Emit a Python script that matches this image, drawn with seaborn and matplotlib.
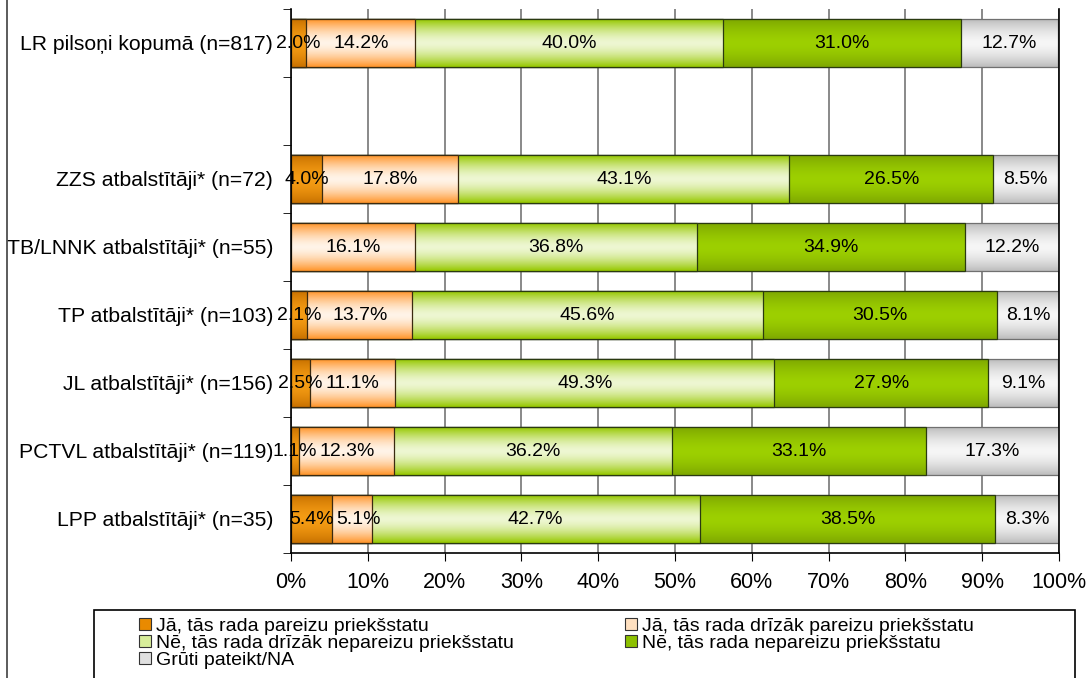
import numpy as np
import pandas as pd
import matplotlib.pyplot as plt
import seaborn as sns
from matplotlib.colors import to_rgb
from matplotlib.patches import Patch, Rectangle
from matplotlib.lines import Line2D

# Dati
groups = ['LR pilsoņi kopumā (n=817)', ' ', 'ZZS atbalstītāji* (n=72)',
          'TB/LNNK atbalstītāji* (n=55)', 'TP atbalstītāji* (n=103)',
          'JL atbalstītāji* (n=156)', 'PCTVL atbalstītāji* (n=119)',
          'LPP atbalstītāji* (n=35)']
rows = [g for g in groups if g.strip()]

series = ['Jā, tās rada pareizu priekšstatu',
          'Jā, tās rada drīzāk pareizu priekšstatu',
          'Nē, tās rada drīzāk nepareizu priekšstatu',
          'Nē, tās rada nepareizu priekšstatu',
          'Grūti pateikt/NA']

ja = [2.0, 4.0, 0.0, 2.1, 2.5, 1.1, 5.4]
ja_drizak = [14.2, 17.8, 16.1, 13.7, 11.1, 12.3, 5.1]
ne_drizak = [40.0, 43.1, 36.8, 45.6, 49.3, 36.2, 42.7]
ne = [31.0, 26.5, 34.9, 30.5, 27.9, 33.1, 38.5]
gruti = [12.7, 8.5, 12.2, 8.1, 9.1, 17.3, 8.3]

# krāsas: (mala, vidus) gradientam
grad = [('#c97200', '#f59c14'),
        ('#ff952a', '#fff4e8'),
        ('#96c800', '#eef7d2'),
        ('#7ea800', '#9dd000'),
        ('#bdbdbd', '#f6f6f6')]
edge_cols = ['#3a2a10', '#3a2a10', '#2a3a10', '#2a3a10', '#707070']
legend_cols = ['#e98a00', '#ffe0c0', '#d8ee9a', '#8cc000', '#e0e0e0']

df = pd.DataFrame({'grupa': rows, series[0]: ja, series[1]: ja_drizak,
                   series[2]: ne_drizak, series[3]: ne, series[4]: gruti})
cum = df[series].cumsum(axis=1)
for s in series:
    df['cum_' + s] = cum[s]

plt.rcParams['font.family'] = ['Liberation Sans', 'DejaVu Sans']
fig = plt.figure(figsize=(10.87, 6.78), dpi=100)
ax = fig.add_axes([291 / 1087, 1 - 553 / 678, 768 / 1087, 544 / 678])


def gradient_img(c_edge, c_mid, n=64):
    t = np.abs(np.linspace(-1, 1, n)) ** 1.6
    e = np.array(to_rgb(c_edge))
    m = np.array(to_rgb(c_mid))
    return (m[None, :] * (1 - t[:, None]) + e[None, :] * t[:, None])[:, None, :]


# uzkrātie stabiņi no pēdējā uz pirmo
for i in reversed(range(len(series))):
    s = series[i]
    n0 = len(ax.patches)
    sns.barplot(data=df, y='grupa', x='cum_' + s, order=groups, orient='h',
                color=legend_cols[i], width=0.7, errorbar=None, ax=ax)
    z = 2 + (4 - i) * 0.1
    img = gradient_img(*grad[i])
    for p in ax.patches[n0:]:
        x0, y0 = p.get_x(), p.get_y()
        w, h = p.get_width(), p.get_height()
        if w <= 0:
            continue
        ax.imshow(img, extent=(x0, x0 + w, y0 + h, y0), aspect='auto',
                  interpolation='bilinear', zorder=z)
        p.set_facecolor('none')
        p.set_edgecolor(edge_cols[i])
        p.set_linewidth(0.9)
        p.set_zorder(z + 0.05)

ax.set_xlim(0, 100)
ax.set_ylim(len(groups) - 0.5, -0.5)

# vērtību etiķetes (pabīda pa labi, ja uzklājas ar iepriekšējo)
renderer = fig.canvas.get_renderer()
for r, g in enumerate(rows):
    y = groups.index(g)
    prev = 0
    last_right = None
    for s in series:
        v = df.loc[r, s]
        if v > 0:
            t = ax.text(prev + v / 2, y, f'{v:.1f}%', ha='center', va='center',
                        fontsize=14, color='black', zorder=5)
            bb = t.get_window_extent(renderer)
            if last_right is not None and bb.x0 < last_right + 2:
                shift = last_right + 2 - bb.x0
                xd = ax.transData.inverted().transform((bb.x0 + bb.width / 2 + shift, 0))[0]
                t.set_x(xd)
                bb = t.get_window_extent(renderer)
            last_right = bb.x1
        prev += v

ax.set_xticks(np.arange(0, 101, 10))
ax.set_xticklabels([f'{t}%' for t in range(0, 101, 10)], fontsize=15.5)
ax.set_yticks(range(len(groups)))
ax.set_yticklabels(groups, fontsize=15.2)
ax.set_yticks(np.arange(-0.5, len(groups), 1), minor=True)
ax.tick_params(axis='y', which='major', length=0, pad=13)
ax.tick_params(axis='y', which='minor', length=6, direction='out', color='black')
ax.tick_params(axis='x', length=6, direction='out', pad=8, color='black')
ax.set_xlabel('')
ax.set_ylabel('')
ax.grid(axis='x', color='#808080', linewidth=1.3, zorder=0.5)
ax.set_axisbelow(True)
for side in ['left', 'bottom', 'right']:
    ax.spines[side].set_color('black')
    ax.spines[side].set_linewidth(1.2)
ax.spines['top'].set_visible(False)

# leģenda divās kolonnās
handles = [Patch(facecolor=legend_cols[i], edgecolor='#333333', linewidth=0.8)
           for i in range(len(series))]
leg_kw = dict(frameon=False, fontsize=14, handlelength=0.6, handleheight=0.6,
              handletextpad=0.25, labelspacing=0.0, borderpad=0, borderaxespad=0,
              loc='upper left')
leg1 = fig.legend([handles[0], handles[2], handles[4]],
                  [series[0], series[2], series[4]],
                  bbox_to_anchor=(139 / 1087, 1 - 618 / 678), **leg_kw)
leg2 = fig.legend([handles[1], handles[3]], [series[1], series[3]],
                  bbox_to_anchor=(625 / 1087, 1 - 618 / 678), **leg_kw)

fig.add_artist(Rectangle((94 / 1087, -0.05), (1075 - 94) / 1087, 0.05 + (678 - 610) / 678,
                         transform=fig.transFigure, fill=False,
                         edgecolor='black', linewidth=1.2))
fig.add_artist(Line2D([7 / 1087, 7 / 1087], [0, 1], transform=fig.transFigure,
                      color='#404040', linewidth=1.2))

fig.savefig('out.png', dpi=100)
